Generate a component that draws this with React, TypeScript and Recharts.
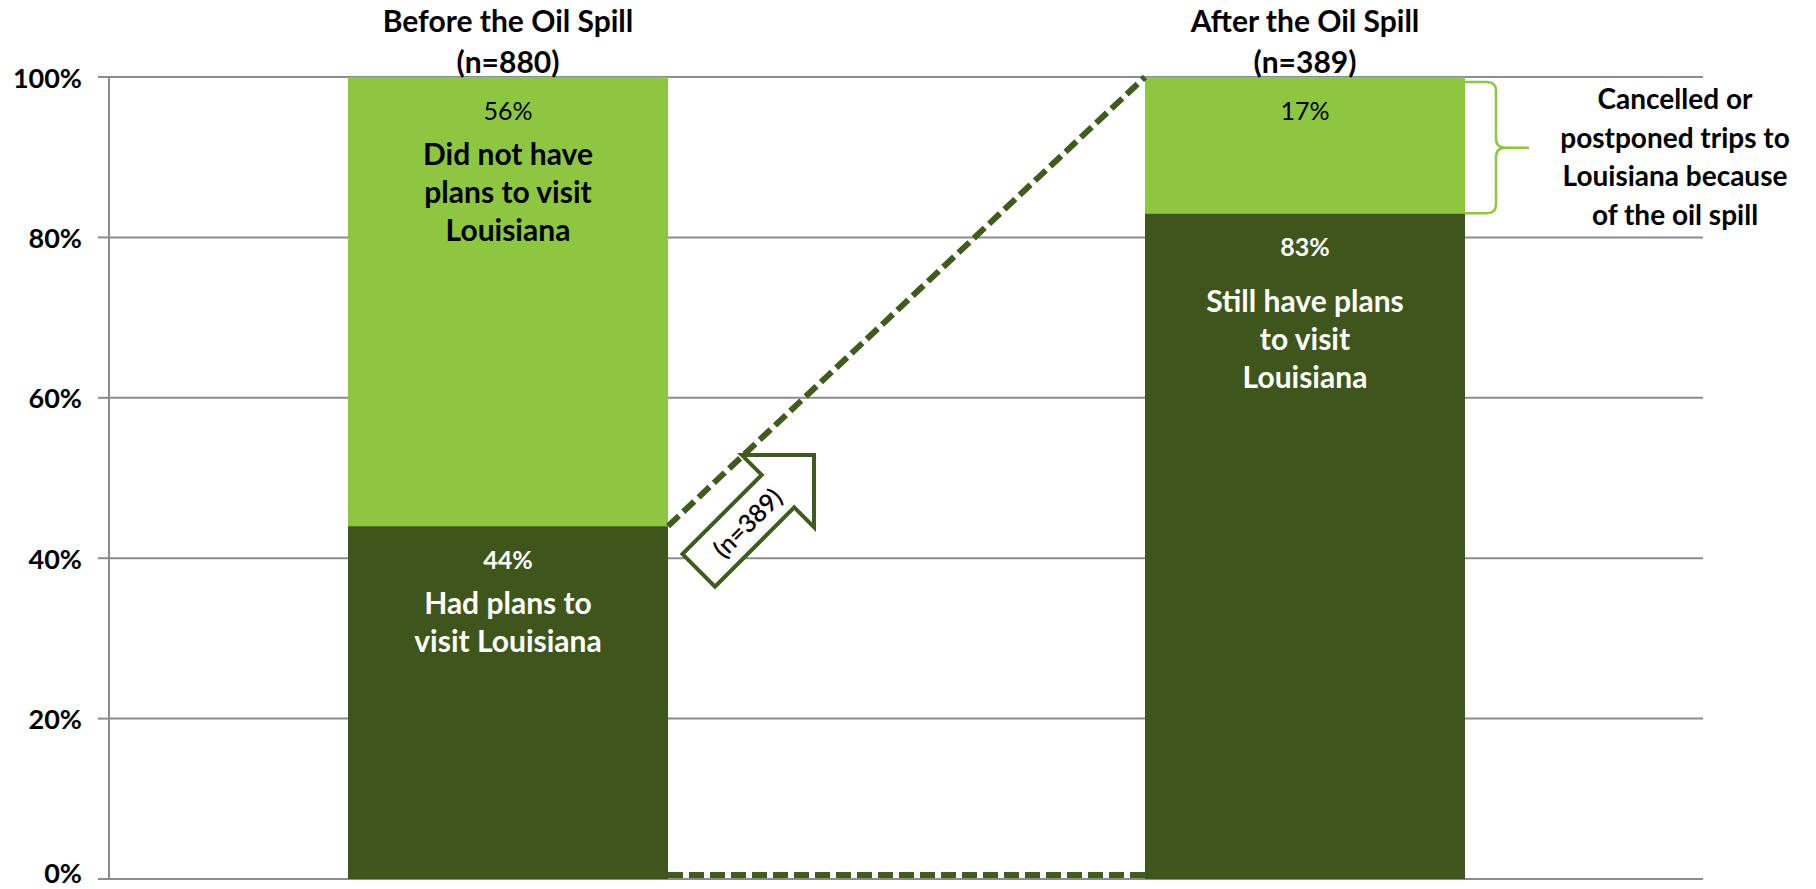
import React from 'react';
import {
  BarChart,
  Bar,
  XAxis,
  YAxis,
  CartesianGrid,
  LabelList,
} from 'recharts';

// periods and sample sizes
const periods = ['Before the Oil Spill', 'After the Oil Spill'];
const sampleSizes = ['(n=880)', '(n=389)'];

// share of respondents (%)
const hadPlans = [44, 83];
const noPlans = [56, 17];

const hadPlansText = [
  ['Had plans to', 'visit Louisiana'],
  ['Still have plans', 'to visit', 'Louisiana'],
];
const noPlansText = [['Did not have', 'plans to visit', 'Louisiana'], []];

const yTicks = [0, 20, 40, 60, 80, 100];
const carriedOver = '(n=389)';
const cancelledNote = ['Cancelled or', 'postponed trips to', 'Louisiana because', 'of the oil spill'];

const DARK = '#3E561C';
const LIGHT = '#8DC63F';
const LINE = '#3F5B1E';
const GRID = '#8C8C8C';
const FONT = 'Lato, "Open Sans", sans-serif';
const CHART_H = 889;

const data = periods.map((p, i) => ({
  period: p,
  hadPlans: hadPlans[i],
  noPlans: noPlans[i],
}));

// bar rectangles, filled in while the bars are drawn
const geom: Record<string, { x: number; y: number; width: number; height: number }> = {};

function HadPlansShape(props: any) {
  const { x, y, width, height, index } = props;
  geom[`had-${index}`] = { x, y, width, height };
  return <rect x={x} y={y} width={width} height={height} fill={DARK} />;
}

function NoPlansShape(props: any) {
  const { x, y, width, height, index } = props;
  const rect = <rect x={x} y={y} width={width} height={height} fill={LIGHT} />;
  const from = geom['had-0'];
  if (index !== 1 || !from) return rect;

  const x0 = from.x + from.width;
  const yTop = from.y;
  const yBottom = from.y + from.height - 4;
  const tx = x0 + 146;
  const ty = yTop - 71;

  // curly brace along the cancelled share
  const bx = x + width;
  const bt = y + 5;
  const bb = y + height;
  const bm = (bt + bb) / 2;
  const xv = bx + 31;
  const xt = bx + 64;
  const brace = `M ${bx} ${bt} L ${xv - 9} ${bt} Q ${xv} ${bt} ${xv} ${bt + 9} L ${xv} ${bm - 9} Q ${xv} ${bm} ${xv + 10} ${bm} L ${xt} ${bm} M ${xv + 10} ${bm} Q ${xv} ${bm} ${xv} ${bm + 9} L ${xv} ${bb - 9} Q ${xv} ${bb} ${xv - 9} ${bb} L ${bx} ${bb}`;

  return (
    <g>
      {rect}
      <line x1={x0} y1={yTop} x2={x} y2={y} stroke={LINE} strokeWidth={6} strokeDasharray="15 6" />
      <line x1={x0} y1={yBottom} x2={x} y2={yBottom} stroke={LINE} strokeWidth={6} strokeDasharray="15 6" />
      <g transform={`translate(${tx},${ty}) rotate(-45)`}>
        <polygon
          points="0,0 -51,-51 -51,-23 -163,-23 -163,23 -51,23 -51,51"
          fill="#fff"
          stroke={LINE}
          strokeWidth={4}
          strokeLinejoin="miter"
        />
        <text x={-95} y={0} textAnchor="middle" dominantBaseline="central" fontFamily={FONT} fontWeight={600} fontSize={25} fill="#000">
          {carriedOver}
        </text>
      </g>
      <path d={brace} fill="none" stroke={LIGHT} strokeWidth={2.5} />
      {cancelledNote.map((t, i) => (
        <text key={t} x={bx + 210} y={y + 21 + i * 38.5} textAnchor="middle" dominantBaseline="central" fontFamily={FONT} fontWeight="bold" fontSize={28} fill="#000">
          {t}
        </text>
      ))}
    </g>
  );
}

function SegmentLabel(props: any) {
  const { x, y, width, index, value, lines, color, pctBold, lineStart } = props;
  const cx = x + width / 2;
  return (
    <g fontFamily={FONT}>
      <text x={cx} y={y + 33} textAnchor="middle" dominantBaseline="central" fontSize={25} fontWeight={pctBold ? 'bold' : 'normal'} fill={color}>
        {`${value}%`}
      </text>
      {lines[index].map((t: string, i: number) => (
        <text key={t} x={cx} y={y + lineStart[index] + i * 38} textAnchor="middle" dominantBaseline="central" fontSize={30} fontWeight="bold" fill={color}>
          {t}
        </text>
      ))}
    </g>
  );
}

function PeriodTitle(props: any) {
  const { x, y, width, index } = props;
  const cx = x + width / 2;
  return (
    <g fontFamily={FONT} fontWeight="bold" fontSize={30} fill="#000">
      <text x={cx} y={y - 45} textAnchor="middle">{periods[index]}</text>
      <text x={cx} y={y - 4} textAnchor="middle">{sampleSizes[index]}</text>
    </g>
  );
}

// y tick that keeps the bottom label inside the picture
function PercentTick(props: any) {
  const { x, y, payload } = props;
  const ty = Math.min(y, CHART_H - 17);
  return (
    <text x={x} y={ty} textAnchor="end" dominantBaseline="central" fontFamily={FONT} fontSize={27} fontWeight="bold" fill="#000">
      {`${payload.value}%`}
    </text>
  );
}

export default function App() {
  return (
    <div style={{ position: 'absolute', left: 0, top: 0, background: '#fff' }}>
      <BarChart
        width={1816}
        height={CHART_H}
        data={data}
        margin={{ top: 77, right: 113, bottom: 10, left: 0 }}
      >
        <CartesianGrid vertical={false} stroke={GRID} strokeWidth={2} />
        <XAxis dataKey="period" tick={false} tickLine={false} height={0} axisLine={{ stroke: GRID, strokeWidth: 3 }} />
        <YAxis
          domain={[0, 100]}
          ticks={yTicks}
          interval={0}
          width={109}
          tickSize={11}
          tickMargin={16}
          axisLine={{ stroke: GRID, strokeWidth: 2 }}
          tickLine={{ stroke: GRID, strokeWidth: 2 }}
          tick={<PercentTick />}
        />
        <Bar dataKey="hadPlans" stackId="a" barSize={320} shape={HadPlansShape} isAnimationActive={false}>
          <LabelList
            dataKey="hadPlans"
            content={(p: any) => (
              <SegmentLabel {...p} lines={hadPlansText} color="#fff" pctBold lineStart={[76, 87]} />
            )}
          />
        </Bar>
        <Bar dataKey="noPlans" stackId="a" barSize={320} shape={NoPlansShape} isAnimationActive={false}>
          <LabelList
            dataKey="noPlans"
            content={(p: any) => (
              <SegmentLabel {...p} lines={noPlansText} color="#000" pctBold={false} lineStart={[76, 76]} />
            )}
          />
          <LabelList dataKey="period" content={(p: any) => <PeriodTitle {...p} />} />
        </Bar>
      </BarChart>
    </div>
  );
}
